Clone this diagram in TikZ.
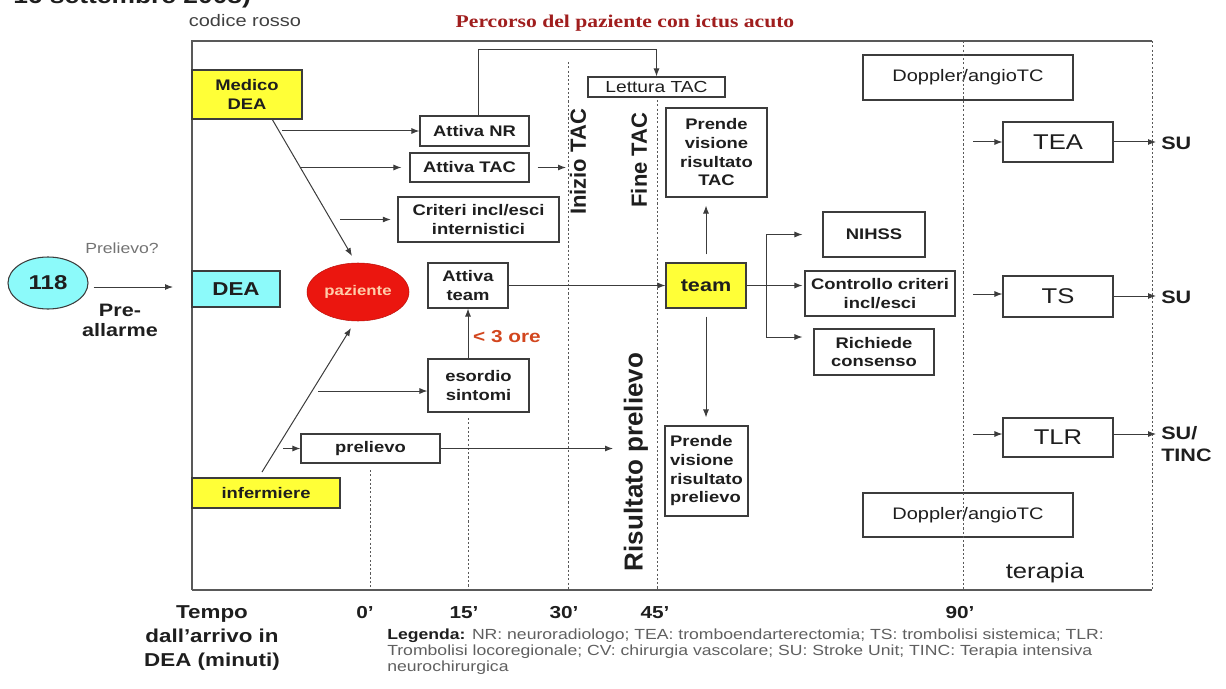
\documentclass[tikz,border=0pt]{standalone}
\usepackage{fontspec}
\setmainfont{Liberation Sans}[FakeStretch=1.2]
\newfontfamily\plainsans{Liberation Sans}
\newfontfamily\serifw{Liberation Serif}[FakeStretch=1.2]
\usetikzlibrary{arrows.meta,shapes.geometric}
\definecolor{yel}{RGB}{255,255,55}
\definecolor{cyb}{RGB}{140,250,250}
\definecolor{redp}{RGB}{235,22,15}
\definecolor{pazt}{RGB}{255,205,170}
\definecolor{titc}{RGB}{160,30,30}
\definecolor{orec}{RGB}{210,70,30}
\definecolor{linec}{RGB}{60,60,60}
\definecolor{txtc}{RGB}{30,30,30}
\definecolor{legc}{RGB}{95,95,95}
\begin{document}
\begin{tikzpicture}[x=0.75pt,y=-0.75pt,
  sz/.style 2 args={minimum width=#1*0.75pt, minimum height=#2*0.75pt},
  box/.style={draw=linec, line width=0.8pt, fill=white, inner sep=0pt, align=center,
    text=txtc, font=\bfseries\fontsize{11.5}{14}\selectfont},
  rbox/.style={box, font=\fontsize{12.5}{14}\selectfont},
  tbox/.style={box, font=\fontsize{16}{18}\selectfont},
  arr/.style={draw=linec, line width=0.75pt, -{Latex[length=6pt,width=4.5pt]}},
  ln/.style={draw=linec, line width=0.75pt},
  dots/.style={draw=black!65, line width=0.7pt, dash pattern=on 1.6pt off 1.6pt},
  frame/.style={draw=black!65, line width=1pt},
  lbl/.style={inner sep=0pt, text=txtc},
  rotl/.style={lbl, rotate=90, font=\plainsans\bfseries\fontsize{16.5}{18}\selectfont}]
\useasboundingbox (0,0) rectangle (1226,688);

% cut-off heading at top
\node[lbl, anchor=base west, font=\bfseries\fontsize{16.5}{18}\selectfont] (head) at (13,4) {16 settembre 2008)};

% title and top labels
\node[lbl, font=\serifw\bfseries\fontsize{13.5}{15}\selectfont, text=titc] (title) at (625,23) {Percorso del paziente con ictus acuto};
\node[lbl, font=\fontsize{12.5}{14}\selectfont, text=black!75] (codice) at (245,21) {codice rosso};

% frame
\draw[frame] (192,590) -- (192,41) -- (1152,41);
\draw[frame] (192,590) -- (1152,590);

% left actors
\node[ellipse, draw=linec, line width=0.8pt, fill=cyb, sz={80}{52}, inner sep=0pt, text=txtc,
  font=\bfseries\fontsize{15}{17}\selectfont] (e118) at (48,283) {118};
\node[lbl, font=\fontsize{11}{13}\selectfont, text=black!55] (prq) at (122,248) {Prelievo?};
\node[lbl, align=center, font=\bfseries\fontsize{13.5}{15}\selectfont] (preall) at (120,320) {Pre-\\allarme};
\node[box, fill=yel, sz={110}{49}] (medico) at (247,94.5) {Medico\\DEA};
\node[box, fill=cyb, sz={88}{36}, font=\bfseries\fontsize{14}{16}\selectfont] (dea) at (236,289) {DEA};
\node[box, fill=yel, sz={148}{30}] (inferm) at (266,493) {infermiere};
\node[ellipse, draw=redp!80!black, fill=redp, sz={102}{58}, inner sep=0pt, text=pazt,
  font=\bfseries\fontsize{10.5}{12}\selectfont] (paz) at (358,292) {paziente};

% middle boxes
\node[box, sz={109}{30}] (nr) at (474.5,131) {Attiva NR};
\node[box, sz={119}{29}] (tac) at (469.5,167.5) {Attiva TAC};
\node[box, sz={161}{45}] (crit) at (478.5,219.5) {Criteri incl/esci\\internistici};
\node[box, sz={80}{45}] (ateam) at (468,285.5) {Attiva\\team};
\node[box, sz={101}{53}] (esord) at (478.5,385.5) {esordio\\sintomi};
\node[box, sz={139}{29}] (prel) at (370.5,448.5) {prelievo};
\node[rbox, sz={137}{20}, font=\fontsize{12}{14}\selectfont] (lett) at (656.5,87) {Lettura TAC};
\node[box, sz={101}{89}] (pvtac) at (716.5,152.5) {Prende\\visione\\risultato\\TAC};
\node[box, fill=yel, sz={80}{45}, font=\bfseries\fontsize{13.5}{15}\selectfont] (team) at (706,285.5) {team};
\node[box, sz={83}{90}, align=left] (pvprel) at (706.5,471) {Prende\\visione\\risultato\\prelievo};
\node[box, sz={102}{45}] (nihss) at (874,234.5) {NIHSS};
\node[box, sz={150}{45}] (ctrl) at (880,293.5) {Controllo criteri\\incl/esci};
\node[box, sz={120}{46}] (rich) at (874,352) {Richiede\\consenso};

% right boxes
\node[rbox, sz={210}{45}] (dop1) at (968,77.5) {Doppler/angioTC};
\node[rbox, sz={210}{44}] (dop2) at (968,515) {Doppler/angioTC};
\node[tbox, sz={110}{40}] (tea) at (1058,142) {TEA};
\node[tbox, sz={110}{41}] (ts) at (1058,296.5) {TS};
\node[tbox, sz={110}{39}] (tlr) at (1058,437.5) {TLR};

% dotted time lines
\draw[dots] (370,470) -- (370,590);
\draw[dots] (468,418) -- (468,590);
\draw[dots] (568,62) -- (568,590);
\draw[dots] (657,100) -- (657,590);
\draw[dots] (963,41) -- (963,590);
\draw[dots] (1152,41) -- (1152,590);

% rotated labels
\node[rotl] (inizio) at (578,162) {Inizio TAC};
\node[rotl] (fine) at (639,160) {Fine TAC};
\node[rotl, font=\plainsans\bfseries\fontsize{19.5}{21}\selectfont] (risult) at (636,462) {Risultato prelievo};

% free ends
\coordinate (c118) at (173,287);
\coordinate (m1) at (282,131);
\coordinate (m2) at (300,167.5);
\coordinate (m3) at (340,219.5);
\coordinate (m4) at (272,119);
\coordinate (p4) at (352,256);
\coordinate (i1) at (262,472);
\coordinate (p5) at (351,328);
\coordinate (i2) at (318,391);
\coordinate (i3) at (283,448.5);
\coordinate (k1) at (478,50);
\coordinate (t1) at (566,167.5);
\coordinate (r1) at (613,448.5);
\coordinate (br) at (766,285.5);
\coordinate (b1) at (766,234.5);
\coordinate (b3) at (766,337);
\coordinate (s1) at (973,142);
\coordinate (s2) at (973,294);
\coordinate (s3) at (973,434);
\coordinate (u1) at (1156,142);
\coordinate (u2) at (1156,296);
\coordinate (u3) at (1156,434);

% connectors
\draw[arr] (e118.east) ++(5,0) coordinate (e118r) (e118r |- c118) -- (c118);
\draw[arr] (m1) -- (m1 -| nr.west);
\draw[arr, shorten >=6pt] (m2) -- (m2 -| tac.west);
\draw[arr, shorten >=5pt] (m3) -- (m3 -| crit.west);
\draw[arr] (m4) -- (p4);
\draw[arr] (i1) -- (p5);
\draw[arr] (i2) -- (i2 -| esord.west);
\draw[arr] (i3) -- (i3 -| prel.west);
\draw[arr] (nr.north -| k1) -- (k1) -| (lett.north);
\draw[arr, shorten <=6pt] (tac.east) -- (t1);
\draw[arr] (esord.north -| ateam.south) -- (ateam.south);
\draw[arr] (ateam.east) -- (team.west);
\draw[arr, shorten <=6pt, shorten >=6pt] (team.north) -- (team.north |- pvtac.south);
\draw[arr, shorten <=6pt, shorten >=6pt] (team.south) -- (team.south |- pvprel.north);
\draw[ln] (team.east) -- (br);
\draw[ln] (b1) -- (b3);
\draw[arr, shorten >=1.5pt] (b1) -- (b1 -| ctrl.west);
\draw[arr, shorten >=1.5pt] (br) -- (br -| ctrl.west);
\draw[arr, shorten >=1.5pt] (b3) -- (b3 -| ctrl.west);
\draw[arr] (prel.east) -- (r1);
\draw[arr] (s1) -- (s1 -| tea.west);
\draw[arr] (s2) -- (s2 -| ts.west);
\draw[arr] (s3) -- (s3 -| tlr.west);
\draw[arr] (tea.east) -- (u1);
\draw[arr] (ts.east |- u2) -- (u2);
\draw[arr] (tlr.east |- u3) -- (u3);

% labels
\node[lbl, font=\bfseries\fontsize{13}{15}\selectfont, text=orec] (ore) at (507,337) {< 3 ore};
\node[lbl, anchor=west, font=\bfseries\fontsize{13.5}{15}\selectfont] (su1) at (1161,143) {SU};
\node[lbl, anchor=west, font=\bfseries\fontsize{13.5}{15}\selectfont] (su2) at (1161,297) {SU};
\node[lbl, anchor=north west, align=left, font=\bfseries\fontsize{13.5}{16.5}\selectfont] (su3) at (1161,426) {SU/\\TINC};
\node[lbl, font=\fontsize{16}{18}\selectfont] (terapia) at (1045,573) {terapia};

% bottom axis
\node[lbl, align=center, font=\bfseries\fontsize{14}{18}\selectfont] (tempo) at (212,638) {Tempo\\dall’arrivo in\\DEA (minuti)};
\node[lbl, font=\bfseries\fontsize{13}{15}\selectfont] (t0) at (365,613) {0’};
\node[lbl, font=\bfseries\fontsize{13}{15}\selectfont] (t15) at (464,613) {15’};
\node[lbl, font=\bfseries\fontsize{13}{15}\selectfont] (t30) at (564,613) {30’};
\node[lbl, font=\bfseries\fontsize{13}{15}\selectfont] (t45) at (655,613) {45’};
\node[lbl, font=\bfseries\fontsize{13}{15}\selectfont] (t90) at (960,613) {90’};
\node[lbl, anchor=north west, align=left, text=legc, font=\fontsize{11}{12}\selectfont] (leg) at (387,629)
  {\textcolor{txtc}{\bfseries Legenda:} NR: neuroradiologo; TEA: tromboendarterectomia; TS: trombolisi sistemica; TLR:\\
   Trombolisi locoregionale; CV: chirurgia vascolare; SU: Stroke Unit; TINC: Terapia intensiva\\
   neurochirurgica};
\end{tikzpicture}
\end{document}
